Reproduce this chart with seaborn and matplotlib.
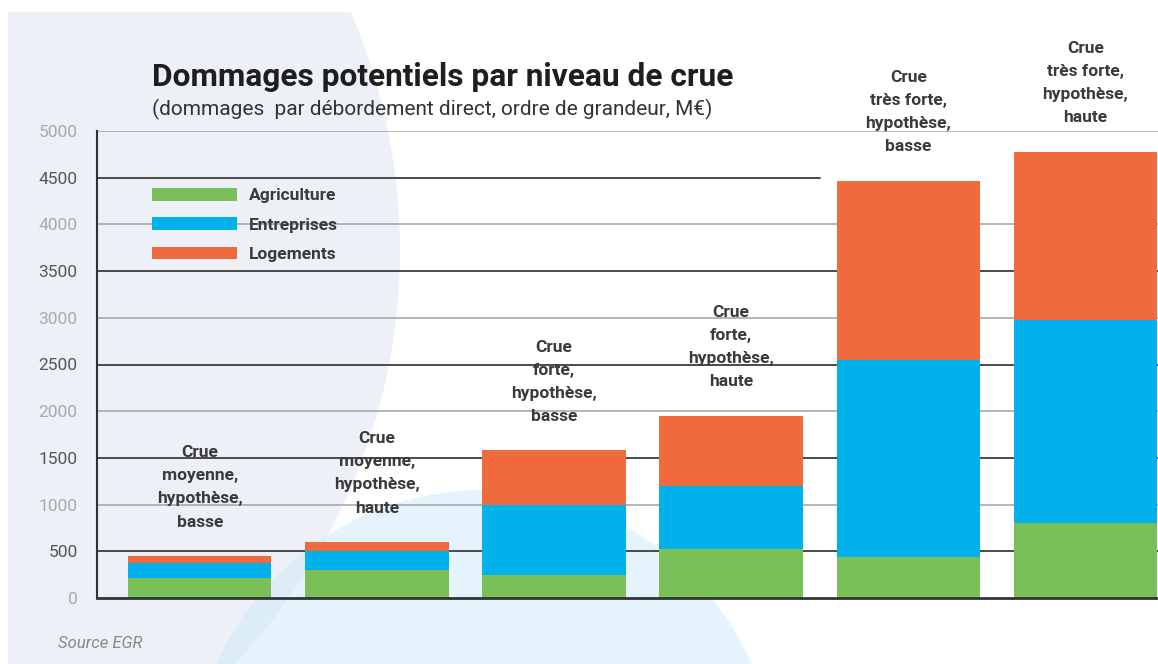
import matplotlib
matplotlib.use("Agg")
import matplotlib.pyplot as plt
from matplotlib.patches import Circle, Rectangle, Patch
import seaborn as sns
import pandas as pd

# values (M€)
categories = [
    "Crue\nmoyenne,\nhypothèse,\nbasse",
    "Crue\nmoyenne,\nhypothèse,\nhaute",
    "Crue\nforte,\nhypothèse,\nbasse",
    "Crue\nforte,\nhypothèse,\nhaute",
    "Crue\ntrès forte,\nhypothèse,\nbasse",
    "Crue\ntrès forte,\nhypothèse,\nhaute",
]
agriculture = [215, 300, 250, 520, 440, 800]
entreprises = [155, 200, 750, 680, 2110, 2180]
logements = [80, 100, 580, 750, 1920, 1800]
series = ["Agriculture", "Entreprises", "Logements"]
yticks = [0, 500, 1000, 1500, 2000, 2500, 3000, 3500, 4000, 4500, 5000]

title = "Dommages potentiels par niveau de crue"
subtitle = "(dommages  par débordement direct, ordre de grandeur, M€)"
source = "Source EGR"

colors = {"Agriculture": "#7ac058", "Entreprises": "#00b1eb", "Logements": "#ef6a3c"}
W, H = 1158, 664


def build_frame():
    df = pd.DataFrame({"crue": categories, "Agriculture": agriculture,
                       "Entreprises": entreprises, "Logements": logements})
    df["agri_ent"] = df["Agriculture"] + df["Entreprises"]
    df["total"] = df["agri_ent"] + df["Logements"]
    return df


def draw_background(fig):
    bg = fig.add_axes([0, 0, 1, 1], zorder=0)
    bg.set_xlim(0, W)
    bg.set_ylim(H, 0)
    bg.axis("off")
    frame = Rectangle((8, 12), W - 8, H - 12, transform=bg.transData)
    gray = Circle((-200, 250), 600, color="#edf0f6", lw=0)
    bg.add_patch(gray)
    gray.set_clip_path(frame)
    blue = Circle((484, 783), 293, color="#d2ebfa", alpha=0.6, lw=0)
    bg.add_patch(blue)


def plot_chart(df):
    sns.set_theme(style="white")
    plt.rcParams["font.family"] = ["Roboto", "DejaVu Sans"]

    fig = plt.figure(figsize=(W / 100, H / 100), dpi=100)
    fig.patch.set_facecolor("white")
    draw_background(fig)

    ax = fig.add_axes([97 / W, 66 / H, (W - 97) / W, 467 / H], zorder=1)
    ax.set_facecolor("none")

    # stacked bars: draw cumulative totals from the top down
    for col, name in [("total", "Logements"), ("agri_ent", "Entreprises"), ("Agriculture", "Agriculture")]:
        sns.barplot(data=df, x="crue", y=col, color=colors[name], saturation=1,
                    width=0.81, linewidth=0, ax=ax, zorder=3)

    # gridlines, alternating dark / light
    for v in yticks[1:]:
        dark = v % 1000 == 500
        xmax = 0.681 if v == 4500 else 1
        ax.axhline(v, xmax=xmax, color="#4a4a4a" if dark else "#a8a8a8",
                   lw=1.4 if dark else 1.2, zorder=1)

    ax.set_xlim(-0.58, 5.41)
    ax.set_ylim(0, 5000)
    ax.set_xticks([])
    ax.set_xlabel("")
    ax.set_ylabel("")
    ax.set_yticks(yticks)
    ax.set_yticklabels([str(v) for v in yticks])
    ax.tick_params(axis="y", length=0, pad=14, labelsize=12.5)
    for v, lab in zip(yticks, ax.get_yticklabels()):
        lab.set_color("#555555" if v % 1000 == 500 else "#aaaaaa")

    sns.despine(ax=ax, top=True, right=True)
    ax.spines["left"].set_color("#333333")
    ax.spines["left"].set_linewidth(1.5)
    ax.spines["bottom"].set_color("#333333")
    ax.spines["bottom"].set_linewidth(2)
    ax.spines["left"].set_zorder(4)
    ax.spines["bottom"].set_zorder(4)

    for i, (lab, tot) in enumerate(zip(df["crue"], df["total"])):
        ax.annotate(lab, (i, tot), xytext=(0, 19), textcoords="offset points",
                    ha="center", va="bottom", fontsize=12.5, fontweight="semibold",
                    color="#3a3a3a", linespacing=1.68, zorder=5)

    handles = [Patch(color=colors[s], lw=0) for s in series]
    ax.legend(handles, series, loc="upper left",
              bbox_to_anchor=((152 - 97) / (W - 97), (598 - 188) / 467),
              frameon=False, handlelength=4.9, handleheight=0.75, handletextpad=0.7,
              labelspacing=0.8, borderpad=0, borderaxespad=0,
              prop={"size": 12.5, "weight": "semibold"}, labelcolor="#3a3a3a")

    fig.text(152 / W, 1 - 77 / H, title, fontsize=22.8, fontweight="bold",
             va="center", ha="left", color="#1e1e1e")
    fig.text(152 / W, 1 - 109 / H, subtitle, fontsize=15, va="center",
             ha="left", color="#333333")
    fig.text(58 / W, 1 - 643 / H, source, fontsize=12, style="italic",
             va="center", ha="left", color="#888888")

    fig.savefig("out.png", dpi=100)
    plt.close(fig)


def main():
    df = build_frame()
    plot_chart(df)


if __name__ == "__main__":
    main()
